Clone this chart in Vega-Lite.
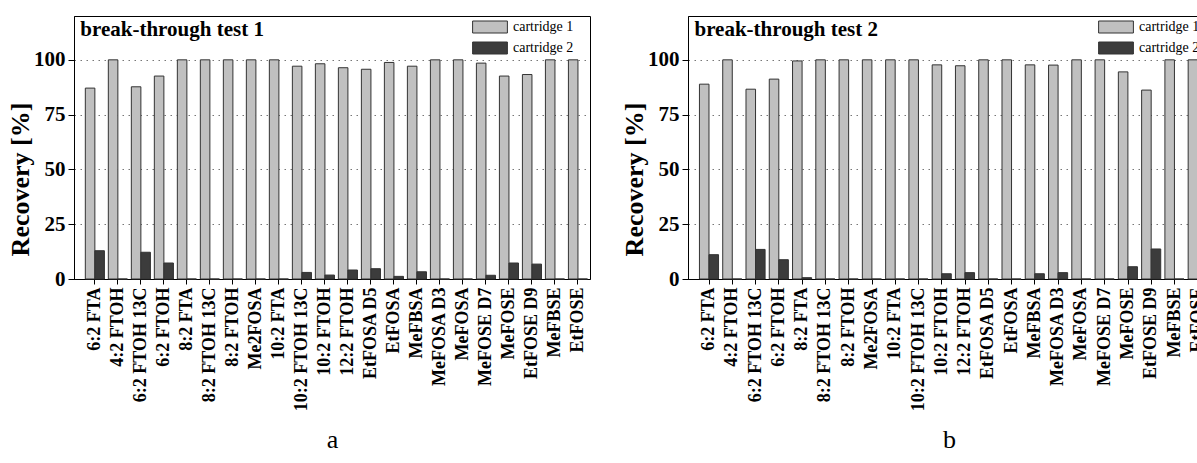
{
  "$schema": "https://vega.github.io/schema/vega-lite/v6.json",
  "background": "white",
  "padding": {"left": 7, "top": 15, "right": -12, "bottom": 0},
  "spacing": 30,
  "config": {
    "font": "Liberation Serif",
    "view": {"stroke": "black", "strokeWidth": 1},
    "axis": {"domainColor": "black", "tickColor": "black", "labelColor": "black", "titleColor": "black", "domainWidth": 1, "tickWidth": 1, "labelFont": "Liberation Serif", "titleFont": "Liberation Serif"},
    "legend": {"symbolStrokeColor": "#333", "symbolStrokeWidth": 1}
  },
  "datasets": {
    "rows": [
      {"test": 1, "compound": "6:2 FTA", "cartridge 1": 87.1, "cartridge 2": 12.9},
      {"test": 1, "compound": "4:2 FTOH", "cartridge 1": 100, "cartridge 2": 0},
      {"test": 1, "compound": "6:2 FTOH 13C", "cartridge 1": 87.7, "cartridge 2": 12.2},
      {"test": 1, "compound": "6:2 FTOH", "cartridge 1": 92.6, "cartridge 2": 7.3},
      {"test": 1, "compound": "8:2 FTA", "cartridge 1": 100, "cartridge 2": 0},
      {"test": 1, "compound": "8:2 FTOH 13C", "cartridge 1": 100, "cartridge 2": 0},
      {"test": 1, "compound": "8:2 FTOH", "cartridge 1": 100, "cartridge 2": 0},
      {"test": 1, "compound": "Me2FOSA", "cartridge 1": 100, "cartridge 2": 0},
      {"test": 1, "compound": "10:2 FTA", "cartridge 1": 100, "cartridge 2": 0},
      {"test": 1, "compound": "10:2 FTOH 13C", "cartridge 1": 97.1, "cartridge 2": 3.0},
      {"test": 1, "compound": "10:2 FTOH", "cartridge 1": 98.2, "cartridge 2": 1.8},
      {"test": 1, "compound": "12:2 FTOH", "cartridge 1": 96.4, "cartridge 2": 4.1},
      {"test": 1, "compound": "EtFOSA D5", "cartridge 1": 95.7, "cartridge 2": 4.7},
      {"test": 1, "compound": "EtFOSA", "cartridge 1": 98.8, "cartridge 2": 1.2},
      {"test": 1, "compound": "MeFBSA", "cartridge 1": 97.1, "cartridge 2": 3.3},
      {"test": 1, "compound": "MeFOSA D3", "cartridge 1": 100, "cartridge 2": 0},
      {"test": 1, "compound": "MeFOSA", "cartridge 1": 100, "cartridge 2": 0},
      {"test": 1, "compound": "MeFOSE D7", "cartridge 1": 98.5, "cartridge 2": 1.7},
      {"test": 1, "compound": "MeFOSE", "cartridge 1": 92.6, "cartridge 2": 7.3},
      {"test": 1, "compound": "EtFOSE D9", "cartridge 1": 93.3, "cartridge 2": 6.8},
      {"test": 1, "compound": "MeFBSE", "cartridge 1": 100, "cartridge 2": 0},
      {"test": 1, "compound": "EtFOSE", "cartridge 1": 100, "cartridge 2": 0},
      {"test": 2, "compound": "6:2 FTA", "cartridge 1": 88.9, "cartridge 2": 11.1},
      {"test": 2, "compound": "4:2 FTOH", "cartridge 1": 100, "cartridge 2": 0},
      {"test": 2, "compound": "6:2 FTOH 13C", "cartridge 1": 86.6, "cartridge 2": 13.5},
      {"test": 2, "compound": "6:2 FTOH", "cartridge 1": 91.2, "cartridge 2": 8.8},
      {"test": 2, "compound": "8:2 FTA", "cartridge 1": 99.5, "cartridge 2": 0.6},
      {"test": 2, "compound": "8:2 FTOH 13C", "cartridge 1": 100, "cartridge 2": 0},
      {"test": 2, "compound": "8:2 FTOH", "cartridge 1": 100, "cartridge 2": 0},
      {"test": 2, "compound": "Me2FOSA", "cartridge 1": 100, "cartridge 2": 0},
      {"test": 2, "compound": "10:2 FTA", "cartridge 1": 100, "cartridge 2": 0},
      {"test": 2, "compound": "10:2 FTOH 13C", "cartridge 1": 100, "cartridge 2": 0},
      {"test": 2, "compound": "10:2 FTOH", "cartridge 1": 97.7, "cartridge 2": 2.4},
      {"test": 2, "compound": "12:2 FTOH", "cartridge 1": 97.3, "cartridge 2": 2.9},
      {"test": 2, "compound": "EtFOSA D5", "cartridge 1": 100, "cartridge 2": 0},
      {"test": 2, "compound": "EtFOSA", "cartridge 1": 100, "cartridge 2": 0},
      {"test": 2, "compound": "MeFBSA", "cartridge 1": 97.7, "cartridge 2": 2.4},
      {"test": 2, "compound": "MeFOSA D3", "cartridge 1": 97.6, "cartridge 2": 2.9},
      {"test": 2, "compound": "MeFOSA", "cartridge 1": 100, "cartridge 2": 0},
      {"test": 2, "compound": "MeFOSE D7", "cartridge 1": 100, "cartridge 2": 0},
      {"test": 2, "compound": "MeFOSE", "cartridge 1": 94.5, "cartridge 2": 5.6},
      {"test": 2, "compound": "EtFOSE D9", "cartridge 1": 86.2, "cartridge 2": 13.7},
      {"test": 2, "compound": "MeFBSE", "cartridge 1": 100, "cartridge 2": 0},
      {"test": 2, "compound": "EtFOSE", "cartridge 1": 100, "cartridge 2": 0}
    ]
  },
  "resolve": {"legend": {"color": "independent"}, "scale": {"color": "independent"}},
  "hconcat": [
    {
      "width": 516,
      "height": 263,
      "layer": [
        {
          "data": {"name": "rows"},
          "transform": [
            {"filter": "datum.test === 1"},
            {"fold": ["cartridge 1", "cartridge 2"], "as": ["cartridge", "recovery"]}
          ],
          "mark": {"type": "bar", "stroke": "#333", "strokeWidth": 1},
          "encoding": {
            "x": {
              "field": "compound", "type": "nominal",
              "sort": ["6:2 FTA","4:2 FTOH","6:2 FTOH 13C","6:2 FTOH","8:2 FTA","8:2 FTOH 13C","8:2 FTOH","Me2FOSA","10:2 FTA","10:2 FTOH 13C","10:2 FTOH","12:2 FTOH","EtFOSA D5","EtFOSA","MeFBSA","MeFOSA D3","MeFOSA","MeFOSE D7","MeFOSE","EtFOSE D9","MeFBSE","EtFOSE"],
              "scale": {"domain": ["6:2 FTA","4:2 FTOH","6:2 FTOH 13C","6:2 FTOH","8:2 FTA","8:2 FTOH 13C","8:2 FTOH","Me2FOSA","10:2 FTA","10:2 FTOH 13C","10:2 FTOH","12:2 FTOH","EtFOSA D5","EtFOSA","MeFBSA","MeFOSA D3","MeFOSA","MeFOSE D7","MeFOSE","EtFOSE D9","MeFBSE","EtFOSE"], "paddingInner": 0.17, "paddingOuter": 0.3, "align": 0.82},
              "axis": {"title": "a", "labelAngle": -90, "labelFontSize": 18, "labelFontWeight": "bold", "tickSize": 5, "labelPadding": 3, "labelOverlap": false, "titleFontSize": 26, "titleFontWeight": "normal", "titlePadding": 16}
            },
            "xOffset": {"field": "cartridge", "type": "nominal"},
            "y": {
              "field": "recovery", "type": "quantitative",
              "scale": {"domain": [0, 120], "nice": false},
              "axis": {
                "title": "Recovery [%]", "titleFontSize": 26, "titleFontWeight": "bold", "titlePadding": 0, "titleY": 163,
                "values": [0, 12.5, 25, 37.5, 50, 62.5, 75, 87.5, 100, 112.5],
                "labelExpr": "datum.value % 25 === 0 ? datum.label : ''",
                "labelFontSize": 21, "labelFontWeight": "bold", "labelPadding": 3, "labelOverlap": false, "labelFlush": false,
                "tickSize": {"condition": {"test": "datum.value % 25 === 0", "value": 6}, "value": 3},
                "grid": true,
                "gridOpacity": {"condition": {"test": "datum.value % 25 === 0 && datum.value > 0", "value": 1}, "value": 0},
                "gridDash": [1.5, 4.5], "gridColor": "#777"
              }
            },
            "color": {
              "field": "cartridge", "type": "nominal",
              "scale": {"domain": ["cartridge 1", "cartridge 2"], "range": ["#c0c0c0", "#3c3c3c"]},
              "legend": {"title": null, "orient": "none", "legendX": 409, "legendY": 4, "symbolType": "M-2.9,-1H2.9V1H-2.9Z", "symbolSize": 144, "symbolOpacity": 1, "labelOffset": 16, "labelFontSize": 14, "labelColor": "black", "rowPadding": 5, "padding": 0}
            }
          }
        },
        {
          "data": {"values": [{"label": "break-through test 1"}]},
          "mark": {"type": "text", "align": "left", "baseline": "alphabetic", "dx": -5, "font": "Liberation Serif", "fontSize": 21, "fontWeight": "bold", "color": "black"},
          "encoding": {
            "x": {"datum": "6:2 FTA", "type": "nominal", "bandPosition": 0},
            "y": {"datum": 111, "type": "quantitative"},
            "text": {"field": "label", "type": "nominal"}
          }
        }
      ]
    },
    {
      "width": 522,
      "height": 263,
      "layer": [
        {
          "data": {"name": "rows"},
          "transform": [
            {"filter": "datum.test === 2"},
            {"fold": ["cartridge 1", "cartridge 2"], "as": ["cartridge", "recovery"]}
          ],
          "mark": {"type": "bar", "stroke": "#333", "strokeWidth": 1},
          "encoding": {
            "x": {
              "field": "compound", "type": "nominal",
              "sort": ["6:2 FTA","4:2 FTOH","6:2 FTOH 13C","6:2 FTOH","8:2 FTA","8:2 FTOH 13C","8:2 FTOH","Me2FOSA","10:2 FTA","10:2 FTOH 13C","10:2 FTOH","12:2 FTOH","EtFOSA D5","EtFOSA","MeFBSA","MeFOSA D3","MeFOSA","MeFOSE D7","MeFOSE","EtFOSE D9","MeFBSE","EtFOSE"],
              "scale": {"domain": ["6:2 FTA","4:2 FTOH","6:2 FTOH 13C","6:2 FTOH","8:2 FTA","8:2 FTOH 13C","8:2 FTOH","Me2FOSA","10:2 FTA","10:2 FTOH 13C","10:2 FTOH","12:2 FTOH","EtFOSA D5","EtFOSA","MeFBSA","MeFOSA D3","MeFOSA","MeFOSE D7","MeFOSE","EtFOSE D9","MeFBSE","EtFOSE"], "paddingInner": 0.17, "paddingOuter": 0.3, "align": 0.82},
              "axis": {"title": "b", "labelAngle": -90, "labelFontSize": 18, "labelFontWeight": "bold", "tickSize": 5, "labelPadding": 3, "labelOverlap": false, "titleFontSize": 26, "titleFontWeight": "normal", "titlePadding": 16}
            },
            "xOffset": {"field": "cartridge", "type": "nominal"},
            "y": {
              "field": "recovery", "type": "quantitative",
              "scale": {"domain": [0, 120], "nice": false},
              "axis": {
                "title": "Recovery [%]", "titleFontSize": 26, "titleFontWeight": "bold", "titlePadding": 0, "titleY": 163,
                "values": [0, 12.5, 25, 37.5, 50, 62.5, 75, 87.5, 100, 112.5],
                "labelExpr": "datum.value % 25 === 0 ? datum.label : ''",
                "labelFontSize": 21, "labelFontWeight": "bold", "labelPadding": 3, "labelOverlap": false, "labelFlush": false,
                "tickSize": {"condition": {"test": "datum.value % 25 === 0", "value": 6}, "value": 3},
                "grid": true,
                "gridOpacity": {"condition": {"test": "datum.value % 25 === 0 && datum.value > 0", "value": 1}, "value": 0},
                "gridDash": [1.5, 4.5], "gridColor": "#777"
              }
            },
            "color": {
              "field": "cartridge", "type": "nominal",
              "scale": {"domain": ["cartridge 1", "cartridge 2"], "range": ["#c0c0c0", "#3c3c3c"]},
              "legend": {"title": null, "orient": "none", "legendX": 421, "legendY": 4, "symbolType": "M-2.9,-1H2.9V1H-2.9Z", "symbolSize": 144, "symbolOpacity": 1, "labelOffset": 16, "labelFontSize": 14, "labelColor": "black", "rowPadding": 5, "padding": 0}
            }
          }
        },
        {
          "data": {"values": [{"label": "break-through test 2"}]},
          "mark": {"type": "text", "align": "left", "baseline": "alphabetic", "dx": -5, "font": "Liberation Serif", "fontSize": 21, "fontWeight": "bold", "color": "black"},
          "encoding": {
            "x": {"datum": "6:2 FTA", "type": "nominal", "bandPosition": 0},
            "y": {"datum": 111, "type": "quantitative"},
            "text": {"field": "label", "type": "nominal"}
          }
        }
      ]
    }
  ]
}
